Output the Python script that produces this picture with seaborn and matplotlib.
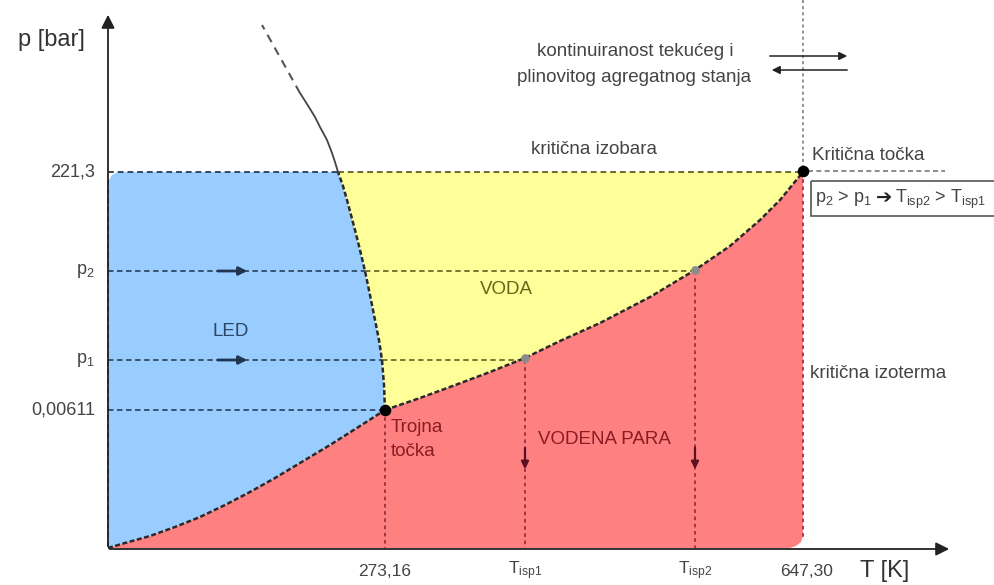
import matplotlib
matplotlib.use("Agg")
import matplotlib.pyplot as plt
import seaborn as sns
import numpy as np
import pandas as pd
from matplotlib.patches import Rectangle

sns.set_theme(style="white")
plt.rcParams['font.family'] = ['Liberation Sans', 'DejaVu Sans']
plt.rcParams['mathtext.default'] = 'regular'

# ---- schematic data (picture coordinates: x -> T, y -> p, y grows downward) ----
# phase boundaries
melt_T = [385, 384, 382, 379, 375, 370, 365, 360, 355, 351, 347, 343, 338]
melt_p = [410, 385, 360, 340, 320, 295, 271, 250, 230, 215, 200, 186, 172]
melt_ext_T = [338, 335, 332, 327, 320, 315, 307, 300]
melt_ext_p = [172, 162, 153, 140, 127, 117, 104, 93]
melt_dash_T = [300, 262]
melt_dash_p = [93, 25]
sublim_T = [108, 125, 150, 175, 200, 225, 250, 275, 300, 330, 360, 385]
sublim_p = [548, 543, 536, 527, 517, 505, 492, 478, 463, 445, 426, 410]
vap_T = [385, 420, 450, 490, 525, 560, 600, 650, 695, 730, 760, 780, 803]
vap_p = [410, 398, 387, 372, 358, 341, 323, 297, 270, 246, 220, 200, 172]

# characteristic levels
T_triple, p_triple = 385, 410
T_crit, p_crit = 803, 172
T_isp1, T_isp2 = 525, 695
p1, p2 = 360, 271

x_tick_pos = [385, 525, 695, 807]
x_tick_lab = ['273,16', r'T$_{isp1}$', r'T$_{isp2}$', '647,30']
y_tick_pos = [172, 271, 360, 410]
y_tick_lab = ['221,3', r'p$_2$', r'p$_1$', '0,00611']

BLUE, YELLOW, RED = '#99CCFF', '#FFFF99', '#FF8080'
TXT = '#444444'

fig = plt.figure(figsize=(9.95, 5.85), dpi=100)
ax = fig.add_axes([0, 0, 1, 1])
ax.set_xlim(0, 995)
ax.set_ylim(585, 0)
ax.axis('off')

# ---- regions ----
blue_x = [108, 112, 118] + melt_T[::-1] + sublim_T[::-1]
blue_y = [182, 175, 172] + melt_p[::-1] + sublim_p[::-1]
ax.fill(blue_x, blue_y, color=BLUE, lw=0, zorder=1)

yel_x = [338, 803] + vap_T[::-1] + melt_T
yel_y = [172, 172] + vap_p[::-1] + melt_p
ax.fill(yel_x, yel_y, color=YELLOW, lw=0, zorder=1)

red_x = sublim_T + vap_T[1:] + [803, 801, 796, 790, 108]
red_y = sublim_p + vap_p[1:] + [536, 542, 546, 548, 548]
ax.fill(red_x, red_y, color=RED, lw=0, zorder=1)

# ---- phase boundary curves ----
bstyle = dict(color='#2a2a2a', lw=1.8, linestyle=(0, (2, 1)), sort=False, estimator=None, ax=ax, zorder=4)
sns.lineplot(x=melt_T, y=melt_p, **bstyle)
sns.lineplot(x=sublim_T, y=sublim_p, **bstyle)
sns.lineplot(x=vap_T, y=vap_p, **bstyle)
sns.lineplot(x=melt_ext_T, y=melt_ext_p, color='#444444', lw=1.3, sort=False, estimator=None, ax=ax, zorder=4)
sns.lineplot(x=melt_dash_T, y=melt_dash_p, color='#555555', lw=1.5, linestyle=(0, (4, 3)),
             sort=False, estimator=None, ax=ax, zorder=4)

# ---- guide lines ----
dash = (0, (3, 2))
dot = (0, (2, 2))
cblue, colive, cred, cgray = '#2f4a66', '#6b6b2a', '#9a3040', '#777777'
# critical isobar
ax.plot([108, 338], [p_crit, p_crit], color=cblue, lw=1.4, ls=dash, zorder=3)
ax.plot([338, 803], [p_crit, p_crit], color=colive, lw=1.4, ls=dash, zorder=3)
ax.plot([808, 945], [p_crit - 1, p_crit - 1], color=cgray, lw=1.2, ls=dash, zorder=3)
# p2, p1, triple pressure
ax.plot([108, 365], [p2, p2], color=cblue, lw=1.3, ls=dash, zorder=3)
ax.plot([365, T_isp2], [p2, p2], color=colive, lw=1.3, ls=dash, zorder=3)
ax.plot([108, 382], [p1, p1], color=cblue, lw=1.3, ls=dash, zorder=3)
ax.plot([382, T_isp1], [p1, p1], color=colive, lw=1.3, ls=dash, zorder=3)
ax.plot([108, T_triple], [p_triple, p_triple], color=cblue, lw=1.3, ls=dash, zorder=3)
# verticals
ax.plot([T_triple, T_triple], [p_triple, 548], color=cred, lw=1.3, ls=dot, zorder=3)
ax.plot([T_isp1, T_isp1], [p1, 548], color=cred, lw=1.3, ls=dot, zorder=3)
ax.plot([T_isp2, T_isp2], [p2, 548], color=cred, lw=1.3, ls=dot, zorder=3)
ax.plot([T_crit, T_crit], [p_crit, 540], color=cred, lw=1.3, ls=dot, zorder=3)
ax.plot([T_crit, T_crit], [0, p_crit], color=cgray, lw=1.1, ls=dot, zorder=3)
# left blue edge
ax.plot([108, 108], [180, 548], color=cblue, lw=1.3, ls=dash, zorder=3)

# small arrows on guide lines
for yy in (p2, p1):
    ax.annotate('', xy=(250, yy), xytext=(215, yy),
                arrowprops=dict(arrowstyle='-|>', color='#1f3550', lw=2, mutation_scale=12), zorder=5)
for xx in (T_isp1, T_isp2):
    ax.annotate('', xy=(xx, 472), xytext=(xx, 445),
                arrowprops=dict(arrowstyle='-|>', color='#5a1020', lw=1.6, mutation_scale=11), zorder=5)

# points
sns.scatterplot(x=[T_triple, T_crit], y=[p_triple, p_crit - 1], color='black', s=70, ax=ax, zorder=6, linewidth=0)
sns.scatterplot(x=[T_isp1, T_isp2], y=[p1 - 2, p2 - 1], color='#8c8c8c', s=40, ax=ax, zorder=6, linewidth=0)

# ---- axes arrows ----
ax.annotate('', xy=(108, 12), xytext=(108, 549),
            arrowprops=dict(arrowstyle='-|>', color='#222222', lw=1.3, mutation_scale=20), zorder=7)
ax.annotate('', xy=(952, 549), xytext=(107, 549),
            arrowprops=dict(arrowstyle='-|>', color='#222222', lw=1.3, mutation_scale=20), zorder=7)

# ---- top-right double arrows ----
ax.annotate('', xy=(850, 56), xytext=(767, 56),
            arrowprops=dict(arrowstyle='-|>', color='#222222', lw=1.1, mutation_scale=12), zorder=5)
ax.annotate('', xy=(769, 70), xytext=(850, 70),
            arrowprops=dict(arrowstyle='-|>', color='#222222', lw=1.1, mutation_scale=12), zorder=5)

# ---- tick labels ----
for xp, lab in zip(x_tick_pos, x_tick_lab):
    ax.text(xp, 571, lab, ha='center', va='center', fontsize=12.5, color=TXT)
for yp, lab in zip(y_tick_pos, y_tick_lab):
    ax.text(95, yp, lab, ha='right', va='center', fontsize=13, color=TXT)

ax.text(51, 40, 'p [bar]', ha='center', va='center', fontsize=17, color='#333333')
ax.text(885, 571, 'T [K]', ha='center', va='center', fontsize=17, color='#333333')

# ---- annotations ----
FS = 13.5
ax.text(635, 52, 'kontinuiranost tekućeg i', ha='center', va='center', fontsize=FS, color=TXT)
ax.text(634, 77, 'plinovitog agregatnog stanja', ha='center', va='center', fontsize=FS, color=TXT)
ax.text(594, 150, 'kritična izobara', ha='center', va='center', fontsize=FS, color=TXT)
ax.text(812, 156, 'Kritična točka', ha='left', va='center', fontsize=FS, color=TXT)
ax.text(810, 374, 'kritična izoterma', ha='left', va='center', fontsize=FS, color=TXT)

# boxed relation: p2 > p1 -> Tisp2 > Tisp1
ax.add_patch(Rectangle((811, 181), 200, 35, fill=False, edgecolor='#555555', lw=1.2, zorder=5))
renderer = fig.canvas.get_renderer()
t1 = ax.text(815, 199, r'p$_2$ > p$_1$', ha='left', va='center', fontsize=13, color=TXT, zorder=6)
x_end = ax.transData.inverted().transform(t1.get_window_extent(renderer).p1)[0]
t2 = ax.text(x_end + 4, 198, '➔', ha='left', va='center', fontsize=14, color='#222222',
             family=['DejaVu Sans'], fontweight='bold', zorder=6)
x_end2 = ax.transData.inverted().transform(t2.get_window_extent(renderer).p1)[0]
ax.text(x_end2 + 3, 199, r'T$_{isp2}$ > T$_{isp1}$', ha='left', va='center', fontsize=13,
        color=TXT, zorder=6)

ax.text(231, 331, 'LED', ha='center', va='center', fontsize=FS, color='#2b4766', zorder=6)
ax.text(506, 290, 'VODA', ha='center', va='center', fontsize=FS, color='#66661a', zorder=6)
ax.text(604, 440, 'VODENA PARA', ha='center', va='center', fontsize=FS, color='#8a1c22', zorder=6)
ax.text(391, 427, 'Trojna', ha='left', va='center', fontsize=FS, color='#8a1c22', zorder=6)
ax.text(391, 452, 'točka', ha='left', va='center', fontsize=FS, color='#8a1c22', zorder=6)

fig.savefig('out.png', dpi=100)
